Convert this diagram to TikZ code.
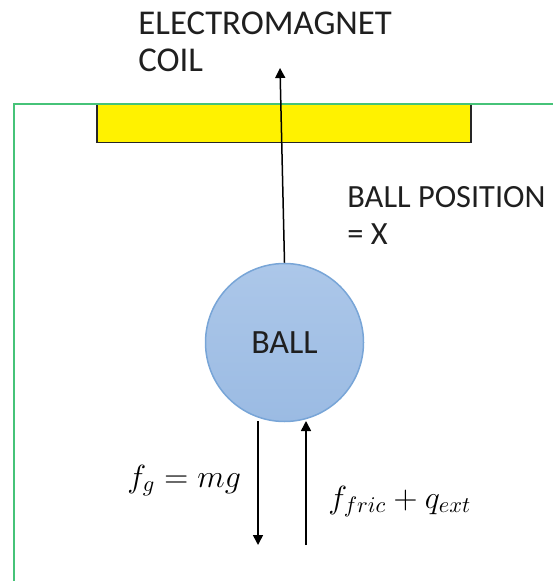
\documentclass[tikz,border=0pt]{standalone}
\usepackage{fix-cm}
\usepackage{fontspec}
\setmainfont{Carlito}
\usetikzlibrary{positioning, arrows.meta}
\definecolor{framegreen}{RGB}{70,195,120}
\definecolor{balledge}{RGB}{120,165,215}
\definecolor{balltop}{RGB}{172,199,233}
\definecolor{ballbottom}{RGB}{155,187,227}

\begin{document}
\begin{tikzpicture}[x=0.5pt, y=-0.5pt,
    force/.style={-{Triangle[width=5pt,length=5pt]}, line width=0.75pt},
    caption/.style={anchor=base west, align=left, inner sep=0pt, text=black!88,
        font=\fontsize{16.2}{18.5}\selectfont}]
    \useasboundingbox (0,0) rectangle (553,581);
    \node[draw=black!85, line width=0.75pt, fill=yellow, minimum width=187pt,
        minimum height=19pt, inner sep=0pt] (coil) at (284,123.5) {};
    \draw[framegreen, line width=1pt] (14,581) |- (553,104);
    \node[circle, draw=balledge, line width=0.75pt, top color=balltop, bottom color=ballbottom,
        minimum size=79pt, inner sep=0pt, text=black!88, font=\fontsize{17}{20}\selectfont]
        (ball) at (284.5,342.5) {BALL};
    \coordinate (coiltop) at (280,68);
    \draw[force] (ball.north) -- (coiltop);
    \node[caption, font=\fontsize{17.4}{18.5}\selectfont] (magnet) at (138,72) {ELECTROMAGNET\\COIL};
    \node[caption] (position) at (347,245) {BALL POSITION\\= X};
    \coordinate (gtop) at (258,421);
    \coordinate (gend) at (258,545);
    \draw[force] (gtop) -- (gend);
    \coordinate (ftop) at (306,421);
    \coordinate (fend) at (306,545);
    \draw[force] (fend) -- (ftop);
    \node[anchor=base west, inner sep=0pt, font=\fontsize{16}{19}\selectfont]
        (gravity) at (127,487) {$f_g = mg$};
    \node[anchor=base west, inner sep=0pt, font=\fontsize{16}{19}\selectfont]
        (friction) at (328,508) {$f_{fric} + q_{ext}$};
\end{tikzpicture}
\end{document}
